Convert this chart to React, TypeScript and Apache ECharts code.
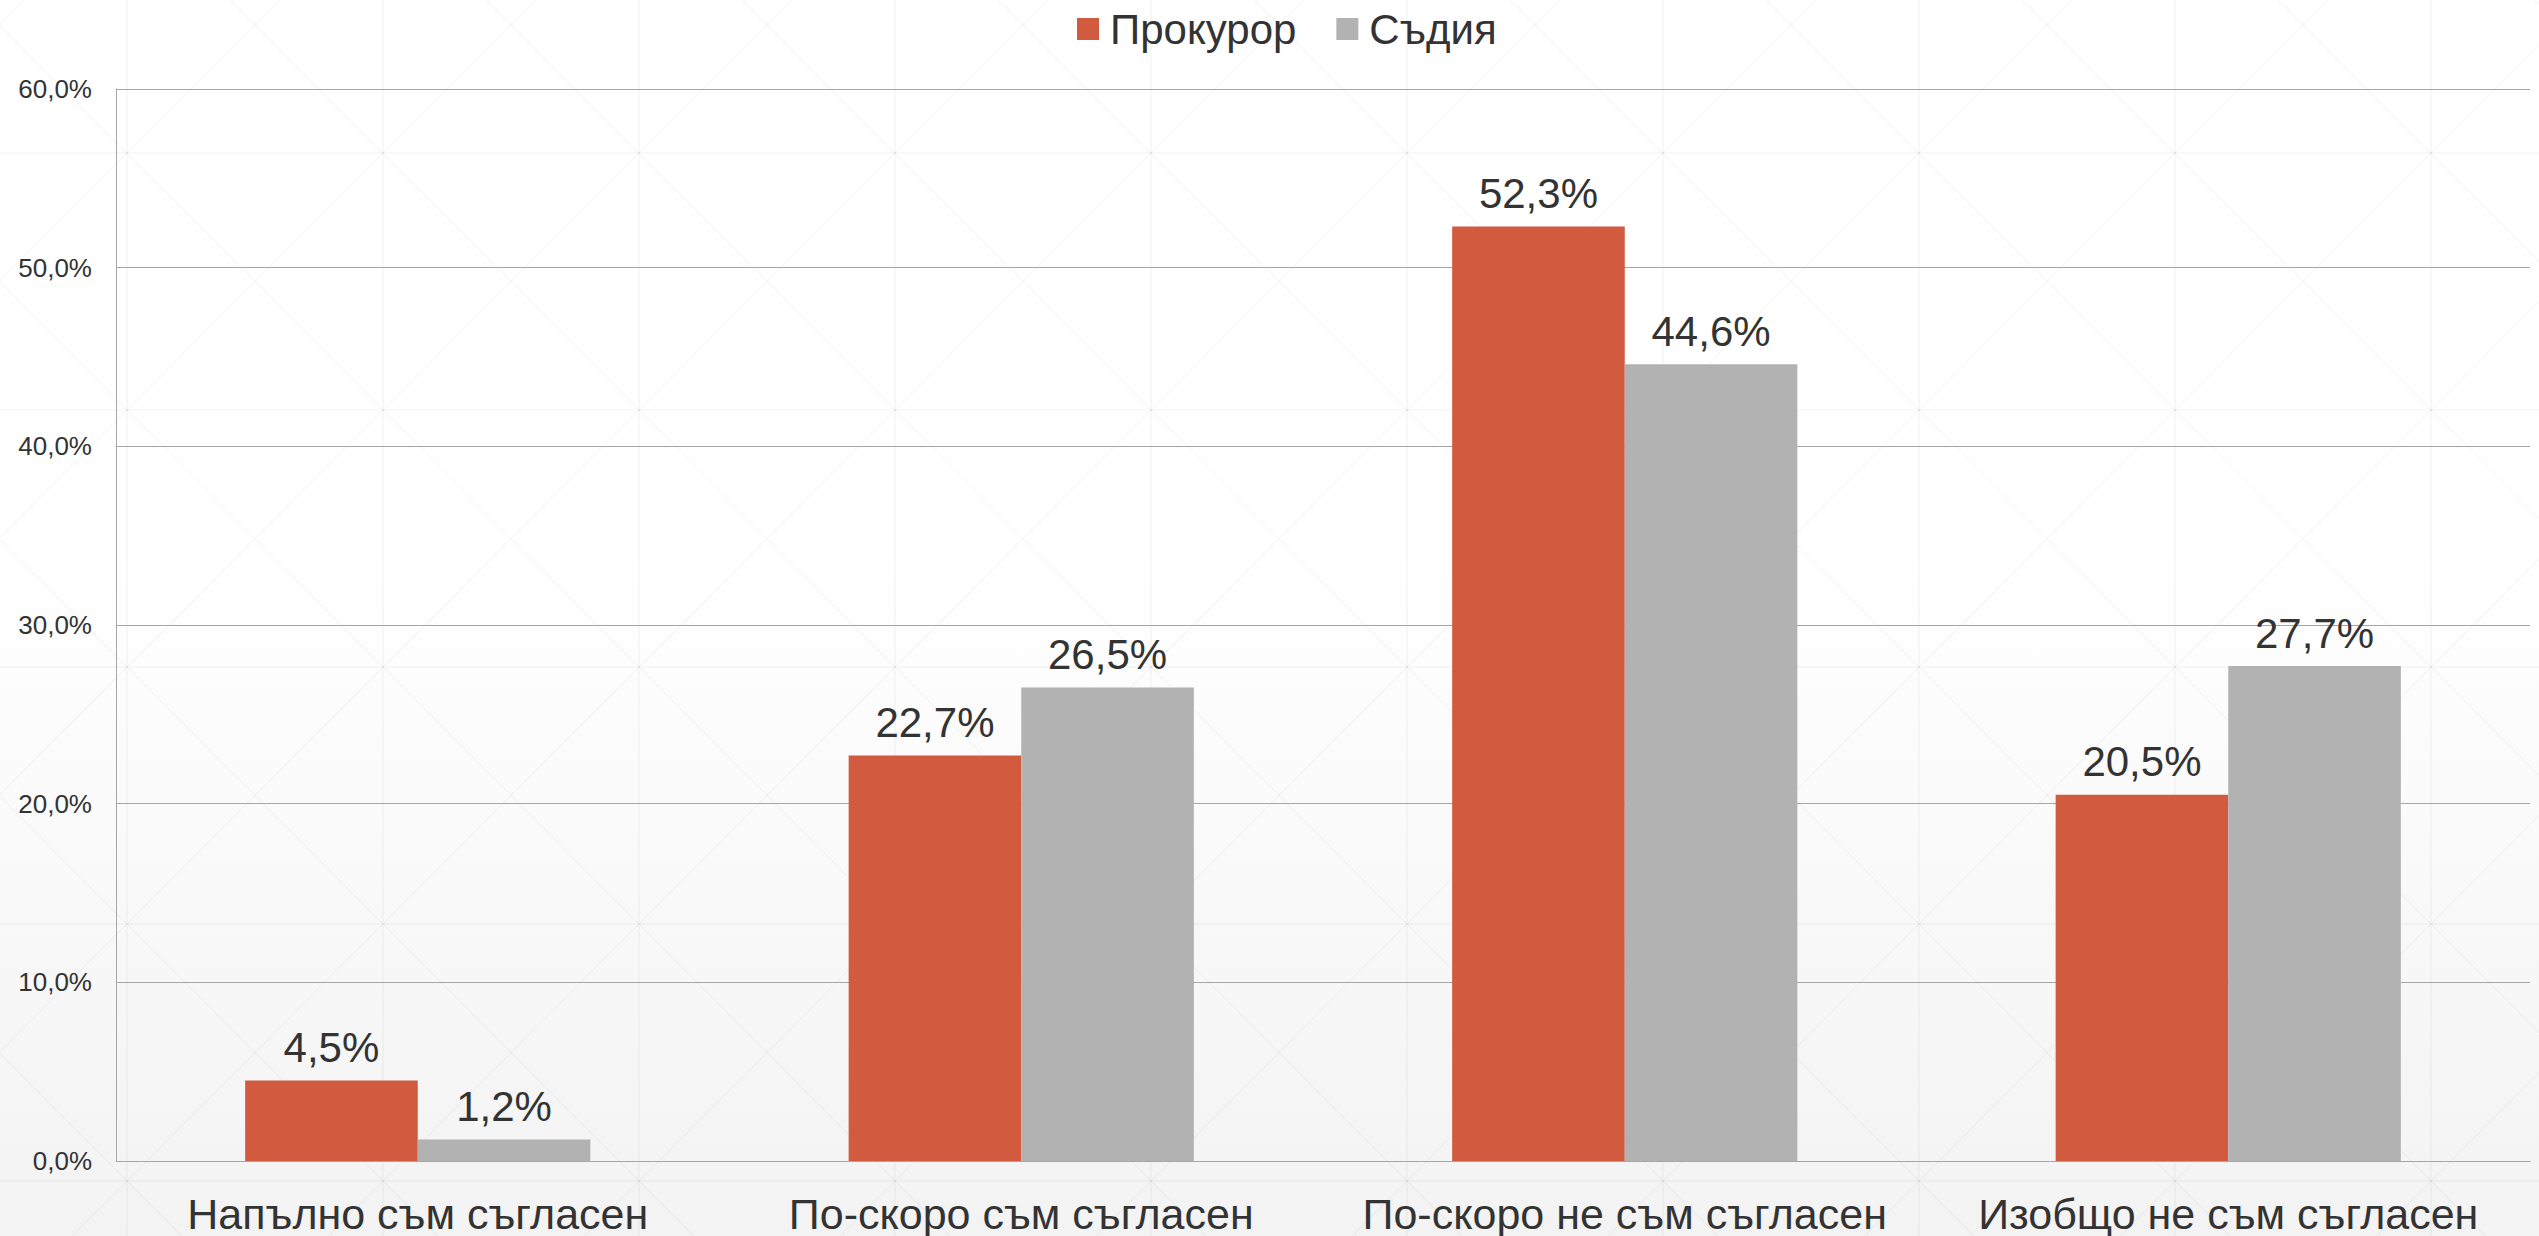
import React, { useEffect, useRef } from "react";
import * as echarts from "echarts";

const categories = [
  "Напълно съм съгласен",
  "По-скоро съм съгласен",
  "По-скоро не съм съгласен",
  "Изобщо не съм съгласен",
];
const seriesNames = ["Прокурор", "Съдия"];
const prosecutorValues = [4.5, 22.7, 52.3, 20.5];
const judgeValues = [1.2, 26.5, 44.6, 27.7];
const seriesColors = ["#d15a3f", "#b2b2b2"];
const yMin = 0;
const yMax = 60;
const yInterval = 10;

const W = 2539;
const H = 1236;
const FONT = "'Liberation Sans', Arial, sans-serif";

const fmt = (v: number) => v.toFixed(1).replace(".", ",") + "%";

function buildPattern() {
  const els: any[] = [];
  const cx = 256;
  const cy = 257;
  const ox = 127;
  const oy = 153;
  const stroke = "rgba(0,0,0,0.055)";
  for (let x = ox - cx; x < W + cx; x += cx) {
    els.push({ type: "line", silent: true, z: -90, shape: { x1: x, y1: 0, x2: x, y2: H }, style: { stroke, lineWidth: 1 } });
  }
  for (let y = oy - cy; y < H + cy; y += cy) {
    els.push({ type: "line", silent: true, z: -90, shape: { x1: 0, y1: y, x2: W, y2: y }, style: { stroke, lineWidth: 1 } });
  }
  for (let i = -1; i <= Math.ceil(W / cx) + 1; i++) {
    for (let j = -1; j <= Math.ceil(H / cy) + 1; j++) {
      const x0 = ox + i * cx;
      const y0 = oy + j * cy;
      els.push({ type: "line", silent: true, z: -90, shape: { x1: x0, y1: y0, x2: x0 + cx, y2: y0 + cy }, style: { stroke, lineWidth: 1 } });
      els.push({ type: "line", silent: true, z: -90, shape: { x1: x0 + cx, y1: y0, x2: x0, y2: y0 + cy }, style: { stroke, lineWidth: 1 } });
    }
  }
  return els;
}

export default function App() {
  const ref = useRef<HTMLDivElement>(null);
  useEffect(() => {
    document.body.style.margin = "0";
    if (!ref.current) return;
    const chart = echarts.init(ref.current, undefined, { renderer: "svg" });
    const labelStyle = {
      show: true,
      position: "top" as const,
      distance: 12,
      fontSize: 42,
      color: "#333",
      fontFamily: FONT,
      formatter: (p: any) => fmt(p.value),
    };
    chart.setOption({
      animation: false,
      backgroundColor: "#ffffff",
      textStyle: { fontFamily: FONT },
      graphic: {
        elements: [
          {
            type: "rect",
            silent: true,
            z: -100,
            shape: { x: 0, y: 0, width: W, height: H },
            style: {
              fill: new echarts.graphic.LinearGradient(0, 0, 0, 1, [
                { offset: 0, color: "#ffffff" },
                { offset: 0.45, color: "#ffffff" },
                { offset: 1, color: "#f3f3f3" },
              ]),
            },
          },
          ...buildPattern(),
        ],
      },
      legend: {
        left: 1077,
        top: 8,
        padding: 0,
        itemWidth: 22,
        itemHeight: 22,
        itemGap: 40,
        icon: "rect",
        textStyle: { fontSize: 42, color: "#333", fontFamily: FONT, padding: [0, 0, 0, 6] },
        data: seriesNames,
      },
      grid: { left: 116, right: 9, top: 89, bottom: 75, containLabel: false },
      xAxis: {
        type: "category",
        data: categories,
        axisLine: { show: true, lineStyle: { color: "#a6a6a6", width: 1 } },
        axisTick: { show: false },
        axisLabel: { interval: 0, fontSize: 43, color: "#333", margin: 31, fontFamily: FONT },
      },
      yAxis: {
        type: "value",
        min: yMin,
        max: yMax,
        interval: yInterval,
        axisLine: { show: true, lineStyle: { color: "#a6a6a6", width: 1 } },
        axisTick: { show: false },
        splitLine: { show: true, lineStyle: { color: "#a6a6a6", width: 1 } },
        axisLabel: { fontSize: 26, color: "#333", margin: 24, fontFamily: FONT, formatter: (v: number) => fmt(v) },
      },
      series: [
        {
          name: seriesNames[0],
          type: "bar",
          data: prosecutorValues,
          barWidth: "28.6%",
          barGap: "0%",
          itemStyle: { color: seriesColors[0] },
          label: labelStyle,
        },
        {
          name: seriesNames[1],
          type: "bar",
          data: judgeValues,
          barWidth: "28.6%",
          barGap: "0%",
          itemStyle: { color: seriesColors[1] },
          label: labelStyle,
        },
      ],
    });
    return () => chart.dispose();
  }, []);
  return <div ref={ref} style={{ width: W, height: H }} />;
}
